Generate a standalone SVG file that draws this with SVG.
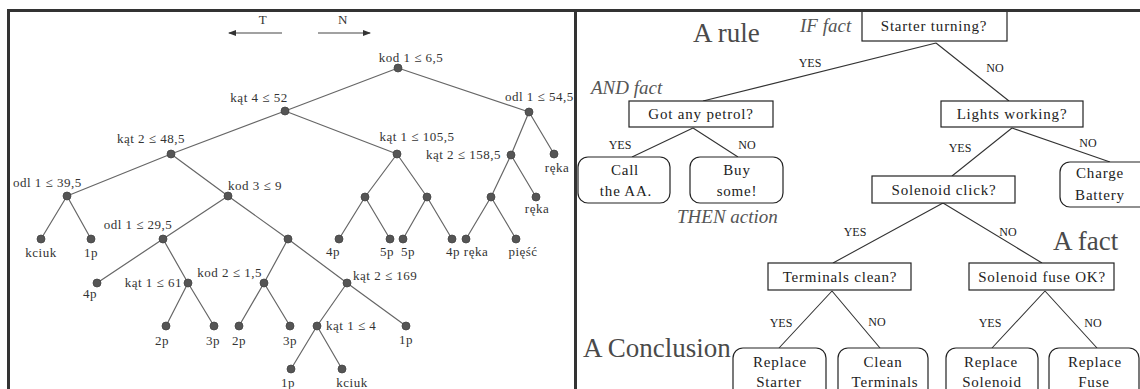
<svg xmlns="http://www.w3.org/2000/svg" width="1140" height="389" viewBox="0 0 1140 389">
<style>
.bg{fill:#fff}
.frame{stroke:#333;stroke-width:3;fill:none}
.edge{stroke:#666;stroke-width:1.2;fill:none}
.dot{fill:#555;stroke:#444;stroke-width:0.8}
.lt{font-family:"Liberation Serif","Times New Roman",serif;font-size:13px;fill:#333;letter-spacing:0.5px}
.mid{text-anchor:middle}
.end{text-anchor:end}
.box{fill:#fff;stroke:#222;stroke-width:1.2}
.conn{stroke:#333;stroke-width:1.1;fill:none}
.bt{font-family:"Liberation Serif","Times New Roman",serif;font-size:15px;fill:#222;letter-spacing:0.8px;text-anchor:middle}
.yn{font-family:"Liberation Serif","Times New Roman",serif;font-size:12px;fill:#222;text-anchor:middle}
.big{font-family:"Liberation Serif","Times New Roman",serif;font-size:27px;fill:#4a4a4a}
.it{font-family:"Liberation Serif","Times New Roman",serif;font-size:19px;font-style:italic;fill:#555}
</style>
<defs>
<marker id="ah" markerWidth="8" markerHeight="6" refX="7" refY="3" orient="auto" markerUnits="userSpaceOnUse">
<path d="M0,0 L8,3 L0,6 Z" fill="#333"/>
</marker>
</defs>
<rect class="bg" x="0" y="0" width="1140" height="389"/>

<!-- LEFT PANEL: tree -->
<g id="direction-arrows">
<line x1="282" y1="33" x2="229" y2="33" stroke="#444" stroke-width="1.2" marker-end="url(#ah)"/>
<line x1="318" y1="33" x2="370" y2="33" stroke="#444" stroke-width="1.2" marker-end="url(#ah)"/>
<text class="lt mid" x="263" y="24">T</text>
<text class="lt mid" x="343" y="24">N</text>
</g>

<g id="tree-edges">
<path class="edge" d="M398,68L285,111M398,68L529,112
M285,111L171,154M285,111L397,154
M529,112L511,155M529,112L554,154
M171,154L67,196M171,154L228,196
M397,154L365,197M397,154L427,197
M511,155L491,197M511,155L536,197
M67,196L41,239M67,196L91,239
M228,196L163,239M228,196L288,239
M365,197L339,239M365,197L390,239
M427,197L403,239M427,197L452,239
M491,197L466,239M491,197L516,239
M163,239L97,283M163,239L188,283
M288,239L264,283M288,239L347,283
M188,283L166,326M188,283L214,326
M264,283L239,326M264,283L290,326
M347,283L317,326M347,283L406,326
M317,326L291,369M317,326L342,369"/>
</g>

<g id="tree-nodes">
<g id="n-root"><circle class="dot" cx="398" cy="68" r="4"/><text class="lt mid" x="411" y="62">kod 1 ≤ 6,5</text></g>
<g id="n-kat4"><circle class="dot" cx="285" cy="111" r="4"/><text class="lt mid" x="259" y="102">kąt 4 ≤ 52</text></g>
<g id="n-odl54"><circle class="dot" cx="529" cy="112" r="4"/><text class="lt" x="505" y="101">odl 1 ≤ 54,5</text></g>
<g id="n-kat2-48"><circle class="dot" cx="171" cy="154" r="4"/><text class="lt mid" x="151" y="143">kąt 2 ≤ 48,5</text></g>
<g id="n-kat1-105"><circle class="dot" cx="397" cy="154" r="4"/><text class="lt mid" x="417" y="141">kąt 1 ≤ 105,5</text></g>
<g id="n-kat2-158"><circle class="dot" cx="511" cy="155" r="4"/><text class="lt end" x="501" y="159">kąt 2 ≤ 158,5</text></g>
<g id="n-reka1"><circle class="dot" cx="554" cy="154" r="4"/><text class="lt mid" x="557" y="172">ręka</text></g>
<g id="n-odl39"><circle class="dot" cx="67" cy="196" r="4"/><text class="lt" x="13" y="187">odl 1 ≤ 39,5</text></g>
<g id="n-kod3"><circle class="dot" cx="228" cy="196" r="4"/><text class="lt" x="228" y="190">kod 3 ≤ 9</text></g>
<g id="n-i"><circle class="dot" cx="365" cy="197" r="4"/></g>
<g id="n-j"><circle class="dot" cx="427" cy="197" r="4"/></g>
<g id="n-k"><circle class="dot" cx="491" cy="197" r="4"/></g>
<g id="n-reka2"><circle class="dot" cx="536" cy="197" r="4"/><text class="lt mid" x="537" y="213">ręka</text></g>
<g id="n-kciuk1"><circle class="dot" cx="41" cy="239" r="4"/><text class="lt mid" x="41" y="257">kciuk</text></g>
<g id="n-1p-a"><circle class="dot" cx="91" cy="239" r="4"/><text class="lt mid" x="91" y="257">1p</text></g>
<g id="n-odl29"><circle class="dot" cx="163" cy="239" r="4"/><text class="lt mid" x="138" y="229">odl 1 ≤ 29,5</text></g>
<g id="n-n"><circle class="dot" cx="288" cy="239" r="4"/></g>
<g id="n-4p-a"><circle class="dot" cx="339" cy="239" r="4"/><text class="lt mid" x="333" y="256">4p</text></g>
<g id="n-5p-a"><circle class="dot" cx="390" cy="239" r="4"/><text class="lt mid" x="387" y="256">5p</text></g>
<g id="n-5p-b"><circle class="dot" cx="403" cy="239" r="4"/><text class="lt mid" x="408" y="256">5p</text></g>
<g id="n-4p-b"><circle class="dot" cx="452" cy="239" r="4"/><text class="lt mid" x="453" y="256">4p</text></g>
<g id="n-reka3"><circle class="dot" cx="466" cy="239" r="4"/><text class="lt mid" x="476" y="256">ręka</text></g>
<g id="n-piesc"><circle class="dot" cx="516" cy="239" r="4"/><text class="lt mid" x="523" y="256">pięść</text></g>
<g id="n-4p-c"><circle class="dot" cx="97" cy="283" r="4"/><text class="lt mid" x="90" y="298">4p</text></g>
<g id="n-kat1-61"><circle class="dot" cx="188" cy="283" r="4"/><text class="lt end" x="182" y="287">kąt 1 ≤ 61</text></g>
<g id="n-kod2"><circle class="dot" cx="264" cy="283" r="4"/><text class="lt end" x="262" y="277">kod 2 ≤ 1,5</text></g>
<g id="n-kat2-169"><circle class="dot" cx="347" cy="283" r="4"/><text class="lt" x="353" y="280">kąt 2 ≤ 169</text></g>
<g id="n-2p-a"><circle class="dot" cx="166" cy="326" r="4"/><text class="lt mid" x="162" y="345">2p</text></g>
<g id="n-3p-a"><circle class="dot" cx="214" cy="326" r="4"/><text class="lt mid" x="213" y="345">3p</text></g>
<g id="n-2p-b"><circle class="dot" cx="239" cy="326" r="4"/><text class="lt mid" x="239" y="345">2p</text></g>
<g id="n-3p-b"><circle class="dot" cx="290" cy="326" r="4"/><text class="lt mid" x="290" y="345">3p</text></g>
<g id="n-kat1-4"><circle class="dot" cx="317" cy="326" r="4"/><text class="lt" x="326" y="330">kąt 1 ≤ 4</text></g>
<g id="n-1p-b"><circle class="dot" cx="406" cy="326" r="4"/><text class="lt mid" x="406" y="344">1p</text></g>
<g id="n-1p-c"><circle class="dot" cx="291" cy="369" r="4"/><text class="lt mid" x="288" y="387">1p</text></g>
<g id="n-kciuk2"><circle class="dot" cx="342" cy="369" r="4"/><text class="lt mid" x="352" y="387">kciuk</text></g>
</g>

<!-- RIGHT PANEL: decision tree -->
<g id="connectors">
<path class="conn" d="M936,43L703,101M936,43L1009,101
M693,128L632,157M693,128L738,157
M1012,128L952,176M1012,128L1110,162
M943,203L833,263M943,203L1042,263
M832,291L779,348M832,291L880,348
M1045,291L992,348M1045,291L1097,348"/>
<text class="yn" x="810" y="67">YES</text>
<text class="yn" x="995" y="72">NO</text>
<text class="yn" x="620" y="149">YES</text>
<text class="yn" x="747" y="149">NO</text>
<text class="yn" x="960" y="152">YES</text>
<text class="yn" x="1088" y="147">NO</text>
<text class="yn" x="855" y="236">YES</text>
<text class="yn" x="1008" y="236">NO</text>
<text class="yn" x="781" y="327">YES</text>
<text class="yn" x="877" y="326">NO</text>
<text class="yn" x="990" y="327">YES</text>
<text class="yn" x="1093" y="327">NO</text>
</g>

<g id="starter"><rect class="box" x="862" y="11" width="145" height="30"/><text class="bt" x="934" y="31">Starter turning?</text></g>
<g id="petrol"><rect class="box" x="629" y="101" width="144" height="26"/><text class="bt" x="701" y="119">Got any petrol?</text></g>
<g id="lights"><rect class="box" x="941" y="101" width="142" height="26"/><text class="bt" x="1012" y="119">Lights working?</text></g>
<g id="solenoid-click"><rect class="box" x="872" y="176" width="143" height="27"/><text class="bt" x="944" y="195">Solenoid click?</text></g>
<g id="terminals-clean"><rect class="box" x="768" y="263" width="143" height="27"/><text class="bt" x="840" y="282">Terminals clean?</text></g>
<g id="solenoid-fuse"><rect class="box" x="969" y="263" width="145" height="27"/><text class="bt" x="1042" y="282">Solenoid fuse OK?</text></g>
<g id="call-aa"><rect class="box" x="578" y="157" width="92" height="46" rx="10"/><text class="bt" x="625" y="175">Call</text><text class="bt" x="626" y="196">the AA.</text></g>
<g id="buy-some"><rect class="box" x="690" y="157" width="93" height="46" rx="10"/><text class="bt" x="737" y="175">Buy</text><text class="bt" x="737" y="196">some!</text></g>
<g id="charge-battery"><rect class="box" x="1060" y="162" width="90" height="45" rx="10"/><text class="bt" x="1100" y="178">Charge</text><text class="bt" x="1100" y="200">Battery</text></g>
<g id="replace-starter"><rect class="box" x="733" y="348" width="93" height="55" rx="10"/><text class="bt" x="780" y="367">Replace</text><text class="bt" x="779" y="387">Starter</text></g>
<g id="clean-terminals"><rect class="box" x="838" y="348" width="90" height="55" rx="10"/><text class="bt" x="883" y="367">Clean</text><text class="bt" x="885" y="387">Terminals</text></g>
<g id="replace-solenoid"><rect class="box" x="946" y="348" width="92" height="55" rx="10"/><text class="bt" x="991" y="367">Replace</text><text class="bt" x="992" y="387">Solenoid</text></g>
<g id="replace-fuse"><rect class="box" x="1049" y="348" width="90" height="55" rx="10"/><text class="bt" x="1095" y="367">Replace</text><text class="bt" x="1094" y="387">Fuse</text></g>

<g id="annotations">
<text class="big" x="693" y="42">A rule</text>
<text class="big" x="1053" y="250">A fact</text>
<text class="big" x="583" y="357">A Conclusion</text>
<text class="it" x="800" y="32">IF fact</text>
<text class="it" x="591" y="94">AND fact</text>
<text class="it" x="677" y="223">THEN action</text>
</g>

<g id="frame">
<line class="frame" x1="7" y1="10.5" x2="1140" y2="10.5"/>
<line class="frame" x1="8.5" y1="9" x2="8.5" y2="389"/>
<line class="frame" x1="575.5" y1="9" x2="575.5" y2="389"/>
</g>
</svg>
